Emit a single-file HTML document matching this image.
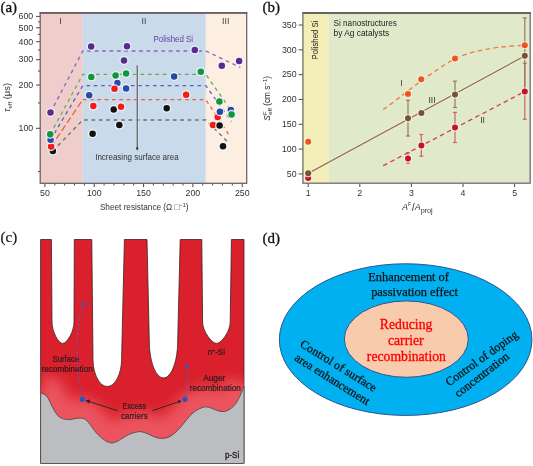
<!DOCTYPE html>
<html><head><meta charset="utf-8"><style>
html,body{margin:0;padding:0;background:#fff;}
body{width:533px;height:466px;overflow:hidden;font-family:"Liberation Sans",sans-serif;}
svg{display:block;will-change:transform;}
</style></head><body>
<svg width="533" height="466" viewBox="0 0 533 466">
<rect x="40.2" y="12.85" width="42.599999999999994" height="170.45000000000002" fill="#eecdcb"/>
<rect x="82.8" y="12.85" width="123.00000000000001" height="170.45000000000002" fill="#c9daeb"/>
<rect x="205.8" y="12.85" width="40.89999999999998" height="170.45000000000002" fill="#fdeee2"/>
<text x="60.45" y="23.8" font-size="8.9" fill="#444" text-anchor="middle" font-family="'Liberation Sans', sans-serif" >I</text>
<text x="144.0" y="23.8" font-size="8.9" fill="#444" text-anchor="middle" font-family="'Liberation Sans', sans-serif" >II</text>
<text x="225.75" y="23.8" font-size="8.9" fill="#444" text-anchor="middle" font-family="'Liberation Sans', sans-serif" >III</text>
<line x1="36.0" y1="128.30" x2="40.2" y2="128.30" stroke="#333" stroke-width="0.9"/>
<text x="33.2" y="131.10000000000002" font-size="8.8" fill="#333" text-anchor="end" font-family="'Liberation Sans', sans-serif" >100</text>
<line x1="36.0" y1="85.01" x2="40.2" y2="85.01" stroke="#333" stroke-width="0.9"/>
<text x="33.2" y="87.8118866235195" font-size="8.8" fill="#333" text-anchor="end" font-family="'Liberation Sans', sans-serif" >200</text>
<line x1="36.0" y1="59.69" x2="40.2" y2="59.69" stroke="#333" stroke-width="0.9"/>
<text x="33.2" y="62.48996357131254" font-size="8.8" fill="#333" text-anchor="end" font-family="'Liberation Sans', sans-serif" >300</text>
<line x1="36.0" y1="41.72" x2="40.2" y2="41.72" stroke="#333" stroke-width="0.9"/>
<text x="33.2" y="44.523773247039" font-size="8.8" fill="#333" text-anchor="end" font-family="'Liberation Sans', sans-serif" >400</text>
<line x1="36.0" y1="27.79" x2="40.2" y2="27.79" stroke="#333" stroke-width="0.9"/>
<text x="33.2" y="30.588113376480496" font-size="8.8" fill="#333" text-anchor="end" font-family="'Liberation Sans', sans-serif" >500</text>
<line x1="36.0" y1="16.40" x2="40.2" y2="16.40" stroke="#333" stroke-width="0.9"/>
<text x="33.2" y="19.20185019483205" font-size="8.8" fill="#333" text-anchor="end" font-family="'Liberation Sans', sans-serif" >600</text>
<line x1="38.0" y1="171.59" x2="40.2" y2="171.59" stroke="#333" stroke-width="0.9"/>
<line x1="38.0" y1="102.98" x2="40.2" y2="102.98" stroke="#333" stroke-width="0.9"/>
<line x1="38.0" y1="71.08" x2="40.2" y2="71.08" stroke="#333" stroke-width="0.9"/>
<line x1="38.0" y1="50.06" x2="40.2" y2="50.06" stroke="#333" stroke-width="0.9"/>
<line x1="38.0" y1="34.37" x2="40.2" y2="34.37" stroke="#333" stroke-width="0.9"/>
<line x1="38.0" y1="21.84" x2="40.2" y2="21.84" stroke="#333" stroke-width="0.9"/>
<line x1="44.90" y1="183.3" x2="44.90" y2="187.10000000000002" stroke="#333" stroke-width="0.9"/>
<text x="44.90" y="196.4" font-size="8.8" fill="#333" text-anchor="middle" font-family="'Liberation Sans', sans-serif" >50</text>
<line x1="54.77" y1="183.3" x2="54.77" y2="185.5" stroke="#333" stroke-width="0.9"/>
<line x1="64.63" y1="183.3" x2="64.63" y2="185.5" stroke="#333" stroke-width="0.9"/>
<line x1="74.50" y1="183.3" x2="74.50" y2="185.5" stroke="#333" stroke-width="0.9"/>
<line x1="84.36" y1="183.3" x2="84.36" y2="185.5" stroke="#333" stroke-width="0.9"/>
<line x1="94.23" y1="183.3" x2="94.23" y2="187.10000000000002" stroke="#333" stroke-width="0.9"/>
<text x="94.23" y="196.4" font-size="8.8" fill="#333" text-anchor="middle" font-family="'Liberation Sans', sans-serif" >100</text>
<line x1="104.10" y1="183.3" x2="104.10" y2="185.5" stroke="#333" stroke-width="0.9"/>
<line x1="113.96" y1="183.3" x2="113.96" y2="185.5" stroke="#333" stroke-width="0.9"/>
<line x1="123.83" y1="183.3" x2="123.83" y2="185.5" stroke="#333" stroke-width="0.9"/>
<line x1="133.69" y1="183.3" x2="133.69" y2="185.5" stroke="#333" stroke-width="0.9"/>
<line x1="143.56" y1="183.3" x2="143.56" y2="187.10000000000002" stroke="#333" stroke-width="0.9"/>
<text x="143.56" y="196.4" font-size="8.8" fill="#333" text-anchor="middle" font-family="'Liberation Sans', sans-serif" >150</text>
<line x1="153.43" y1="183.3" x2="153.43" y2="185.5" stroke="#333" stroke-width="0.9"/>
<line x1="163.29" y1="183.3" x2="163.29" y2="185.5" stroke="#333" stroke-width="0.9"/>
<line x1="173.16" y1="183.3" x2="173.16" y2="185.5" stroke="#333" stroke-width="0.9"/>
<line x1="183.02" y1="183.3" x2="183.02" y2="185.5" stroke="#333" stroke-width="0.9"/>
<line x1="192.89" y1="183.3" x2="192.89" y2="187.10000000000002" stroke="#333" stroke-width="0.9"/>
<text x="192.89" y="196.4" font-size="8.8" fill="#333" text-anchor="middle" font-family="'Liberation Sans', sans-serif" >200</text>
<line x1="202.76" y1="183.3" x2="202.76" y2="185.5" stroke="#333" stroke-width="0.9"/>
<line x1="212.62" y1="183.3" x2="212.62" y2="185.5" stroke="#333" stroke-width="0.9"/>
<line x1="222.49" y1="183.3" x2="222.49" y2="185.5" stroke="#333" stroke-width="0.9"/>
<line x1="232.35" y1="183.3" x2="232.35" y2="185.5" stroke="#333" stroke-width="0.9"/>
<line x1="242.22" y1="183.3" x2="242.22" y2="187.10000000000002" stroke="#333" stroke-width="0.9"/>
<text x="242.22" y="196.4" font-size="8.8" fill="#333" text-anchor="middle" font-family="'Liberation Sans', sans-serif" >250</text>
<path d="M50.50,112.50 L82.80,51.00 L205.80,51.00 L240.40,67.40" fill="none" stroke="#8666c0" stroke-width="1.3" stroke-dasharray="3.7 3.7"/>
<path d="M50.20,134.20 L82.80,74.40 L205.80,74.40 L230.00,109.00" fill="none" stroke="#5caf5c" stroke-width="1.3" stroke-dasharray="3.7 3.7"/>
<path d="M50.60,139.80 L82.80,85.60 L205.80,85.60 L231.40,121.30" fill="none" stroke="#5562bf" stroke-width="1.3" stroke-dasharray="3.7 3.7"/>
<path d="M51.10,146.60 L82.80,99.60" fill="none" stroke="#ee6040" stroke-width="1.3" stroke-dasharray="6.5 3"/>
<path d="M82.80,99.60 L205.80,99.60 L228.90,134.70" fill="none" stroke="#ee6040" stroke-width="1.3" stroke-dasharray="3.7 3.6"/>
<path d="M52.80,151.00 L82.80,120.00 L205.80,120.00 L229.40,143.60" fill="none" stroke="#6e6e6e" stroke-width="1.3" stroke-dasharray="3.7 3.7"/>
<line x1="137.2" y1="65.3" x2="137.2" y2="149" stroke="#eef6fa" stroke-width="2.6" stroke-opacity="0.6"/>
<line x1="137.2" y1="65.3" x2="137.2" y2="148" stroke="#4a4a4a" stroke-width="1.1"/>
<path d="M135.8,147.6 L138.6,147.6 L137.2,150.8 Z" fill="#222"/>
<text x="95.20" y="159.6" font-size="8.6" fill="#333" textLength="83.40" lengthAdjust="spacingAndGlyphs" font-family="'Liberation Sans', sans-serif" >Increasing surface area</text>
<text x="153.50" y="42.3" font-size="8.2" fill="#6a3aa0" textLength="39.60" lengthAdjust="spacingAndGlyphs" font-family="'Liberation Sans', sans-serif" >Polished Si</text>
<circle cx="52.8" cy="151.0" r="4.55" fill="#eef8fa" fill-opacity="0.85"/>
<circle cx="52.8" cy="151.0" r="3.25" fill="#111111"/>
<circle cx="51.1" cy="146.6" r="4.55" fill="#eef8fa" fill-opacity="0.85"/>
<circle cx="51.1" cy="146.6" r="3.25" fill="#f81818"/>
<circle cx="50.6" cy="139.8" r="4.55" fill="#eef8fa" fill-opacity="0.85"/>
<circle cx="50.6" cy="139.8" r="3.25" fill="#2b48a8"/>
<circle cx="50.2" cy="134.2" r="4.55" fill="#eef8fa" fill-opacity="0.85"/>
<circle cx="50.2" cy="134.2" r="3.25" fill="#13963a"/>
<circle cx="50.5" cy="112.5" r="4.55" fill="#eef8fa" fill-opacity="0.85"/>
<circle cx="50.5" cy="112.5" r="3.25" fill="#5a2a90"/>
<circle cx="92.6" cy="133.8" r="4.55" fill="#eef8fa" fill-opacity="0.85"/>
<circle cx="92.6" cy="133.8" r="3.25" fill="#111111"/>
<circle cx="113.7" cy="109.5" r="4.55" fill="#eef8fa" fill-opacity="0.85"/>
<circle cx="113.7" cy="109.5" r="3.25" fill="#111111"/>
<circle cx="119.3" cy="125.0" r="4.55" fill="#eef8fa" fill-opacity="0.85"/>
<circle cx="119.3" cy="125.0" r="3.25" fill="#111111"/>
<circle cx="166.7" cy="108.2" r="4.55" fill="#eef8fa" fill-opacity="0.85"/>
<circle cx="166.7" cy="108.2" r="3.25" fill="#111111"/>
<circle cx="89.2" cy="95.3" r="4.55" fill="#eef8fa" fill-opacity="0.85"/>
<circle cx="89.2" cy="95.3" r="3.25" fill="#2b48a8"/>
<circle cx="117.4" cy="83.0" r="4.55" fill="#eef8fa" fill-opacity="0.85"/>
<circle cx="117.4" cy="83.0" r="3.25" fill="#2b48a8"/>
<circle cx="126.1" cy="88.4" r="4.55" fill="#eef8fa" fill-opacity="0.85"/>
<circle cx="126.1" cy="88.4" r="3.25" fill="#2b48a8"/>
<circle cx="174.1" cy="76.4" r="4.55" fill="#eef8fa" fill-opacity="0.85"/>
<circle cx="174.1" cy="76.4" r="3.25" fill="#2b48a8"/>
<circle cx="93.3" cy="106.1" r="4.55" fill="#eef8fa" fill-opacity="0.85"/>
<circle cx="93.3" cy="106.1" r="3.25" fill="#f81818"/>
<circle cx="114.5" cy="88.8" r="4.55" fill="#eef8fa" fill-opacity="0.85"/>
<circle cx="114.5" cy="88.8" r="3.25" fill="#f81818"/>
<circle cx="121.0" cy="106.8" r="4.55" fill="#eef8fa" fill-opacity="0.85"/>
<circle cx="121.0" cy="106.8" r="3.25" fill="#f81818"/>
<circle cx="186.1" cy="94.7" r="4.55" fill="#eef8fa" fill-opacity="0.85"/>
<circle cx="186.1" cy="94.7" r="3.25" fill="#f81818"/>
<circle cx="91.3" cy="77.0" r="4.55" fill="#eef8fa" fill-opacity="0.85"/>
<circle cx="91.3" cy="77.0" r="3.25" fill="#13963a"/>
<circle cx="115.6" cy="75.5" r="4.55" fill="#eef8fa" fill-opacity="0.85"/>
<circle cx="115.6" cy="75.5" r="3.25" fill="#13963a"/>
<circle cx="126.1" cy="73.5" r="4.55" fill="#eef8fa" fill-opacity="0.85"/>
<circle cx="126.1" cy="73.5" r="3.25" fill="#13963a"/>
<circle cx="200.8" cy="71.8" r="4.55" fill="#eef8fa" fill-opacity="0.85"/>
<circle cx="200.8" cy="71.8" r="3.25" fill="#13963a"/>
<circle cx="91.2" cy="46.4" r="4.55" fill="#eef8fa" fill-opacity="0.85"/>
<circle cx="91.2" cy="46.4" r="3.25" fill="#5a2a90"/>
<circle cx="127.0" cy="46.3" r="4.55" fill="#eef8fa" fill-opacity="0.85"/>
<circle cx="127.0" cy="46.3" r="3.25" fill="#5a2a90"/>
<circle cx="124.0" cy="60.5" r="4.55" fill="#eef8fa" fill-opacity="0.85"/>
<circle cx="124.0" cy="60.5" r="3.25" fill="#5a2a90"/>
<circle cx="194.8" cy="50.1" r="4.55" fill="#eef8fa" fill-opacity="0.85"/>
<circle cx="194.8" cy="50.1" r="3.25" fill="#5a2a90"/>
<circle cx="217.7" cy="117.0" r="4.55" fill="#eef8fa" fill-opacity="0.85"/>
<circle cx="217.7" cy="117.0" r="3.25" fill="#f81818"/>
<circle cx="213.0" cy="125.0" r="4.55" fill="#eef8fa" fill-opacity="0.85"/>
<circle cx="213.0" cy="125.0" r="3.25" fill="#f81818"/>
<circle cx="219.6" cy="125.5" r="4.55" fill="#eef8fa" fill-opacity="0.85"/>
<circle cx="219.6" cy="125.5" r="3.25" fill="#111111"/>
<circle cx="223.0" cy="146.2" r="4.55" fill="#eef8fa" fill-opacity="0.85"/>
<circle cx="223.0" cy="146.2" r="3.25" fill="#111111"/>
<circle cx="219.9" cy="111.8" r="4.55" fill="#eef8fa" fill-opacity="0.85"/>
<circle cx="219.9" cy="111.8" r="3.25" fill="#2b48a8"/>
<circle cx="230.8" cy="110.1" r="4.55" fill="#eef8fa" fill-opacity="0.85"/>
<circle cx="230.8" cy="110.1" r="3.25" fill="#2b48a8"/>
<circle cx="219.4" cy="101.4" r="4.55" fill="#eef8fa" fill-opacity="0.85"/>
<circle cx="219.4" cy="101.4" r="3.25" fill="#13963a"/>
<circle cx="231.6" cy="114.4" r="4.55" fill="#eef8fa" fill-opacity="0.85"/>
<circle cx="231.6" cy="114.4" r="3.25" fill="#13963a"/>
<circle cx="221.8" cy="65.8" r="4.55" fill="#eef8fa" fill-opacity="0.85"/>
<circle cx="221.8" cy="65.8" r="3.25" fill="#5a2a90"/>
<circle cx="239.1" cy="61.0" r="4.55" fill="#eef8fa" fill-opacity="0.85"/>
<circle cx="239.1" cy="61.0" r="3.25" fill="#5a2a90"/>
<rect x="40.2" y="12.85" width="206.5" height="170.45000000000002" fill="none" stroke="#6a6060" stroke-width="1.25"/>
<line x1="39.6" y1="12.85" x2="247.29999999999998" y2="12.85" stroke="#6a5e60" stroke-width="1.8"/>
<text x="99.90" y="209.6" font-size="8.8" fill="#333" textLength="88.70" lengthAdjust="spacingAndGlyphs" font-family="'Liberation Sans', sans-serif" >Sheet resistance (Ω □<tspan font-size="6" dy="-3">−1</tspan><tspan dy="3">)</tspan></text>
<g transform="translate(9.7,97.5) rotate(-90)"><text x="0" y="0" font-size="9.4" fill="#333" text-anchor="middle" font-family="'Liberation Sans', sans-serif"><tspan font-style="italic">τ</tspan><tspan font-size="6" dy="2">eff</tspan><tspan dy="-2"> (μs)</tspan></text></g>
<text x="0.4" y="12.2" font-size="15" fill="#111" text-anchor="start" font-family="'Liberation Serif', serif" stroke="#111" stroke-width="0.3">(a)</text>
<rect x="302.9" y="13.0" width="25.5" height="170.2" fill="#f3edb8"/>
<rect x="328.4" y="13.0" width="201.80000000000007" height="170.2" fill="#e0e9c9"/>
<line x1="298.7" y1="173.91" x2="302.9" y2="173.91" stroke="#333" stroke-width="0.9"/>
<text x="296.6" y="176.715" font-size="8.8" fill="#333" text-anchor="end" font-family="'Liberation Sans', sans-serif" >50</text>
<line x1="298.7" y1="149.10" x2="302.9" y2="149.10" stroke="#333" stroke-width="0.9"/>
<text x="296.6" y="151.9" font-size="8.8" fill="#333" text-anchor="end" font-family="'Liberation Sans', sans-serif" >100</text>
<line x1="298.7" y1="124.28" x2="302.9" y2="124.28" stroke="#333" stroke-width="0.9"/>
<text x="296.6" y="127.085" font-size="8.8" fill="#333" text-anchor="end" font-family="'Liberation Sans', sans-serif" >150</text>
<line x1="298.7" y1="99.47" x2="302.9" y2="99.47" stroke="#333" stroke-width="0.9"/>
<text x="296.6" y="102.27" font-size="8.8" fill="#333" text-anchor="end" font-family="'Liberation Sans', sans-serif" >200</text>
<line x1="298.7" y1="74.65" x2="302.9" y2="74.65" stroke="#333" stroke-width="0.9"/>
<text x="296.6" y="77.45499999999998" font-size="8.8" fill="#333" text-anchor="end" font-family="'Liberation Sans', sans-serif" >250</text>
<line x1="298.7" y1="49.84" x2="302.9" y2="49.84" stroke="#333" stroke-width="0.9"/>
<text x="296.6" y="52.639999999999986" font-size="8.8" fill="#333" text-anchor="end" font-family="'Liberation Sans', sans-serif" >300</text>
<line x1="298.7" y1="25.02" x2="302.9" y2="25.02" stroke="#333" stroke-width="0.9"/>
<text x="296.6" y="27.824999999999992" font-size="8.8" fill="#333" text-anchor="end" font-family="'Liberation Sans', sans-serif" >350</text>
<line x1="308.20" y1="183.2" x2="308.20" y2="187.0" stroke="#333" stroke-width="0.9"/>
<text x="308.20" y="196.4" font-size="8.8" fill="#333" text-anchor="middle" font-family="'Liberation Sans', sans-serif" >1</text>
<line x1="359.80" y1="183.2" x2="359.80" y2="187.0" stroke="#333" stroke-width="0.9"/>
<text x="359.80" y="196.4" font-size="8.8" fill="#333" text-anchor="middle" font-family="'Liberation Sans', sans-serif" >2</text>
<line x1="411.40" y1="183.2" x2="411.40" y2="187.0" stroke="#333" stroke-width="0.9"/>
<text x="411.40" y="196.4" font-size="8.8" fill="#333" text-anchor="middle" font-family="'Liberation Sans', sans-serif" >3</text>
<line x1="463.00" y1="183.2" x2="463.00" y2="187.0" stroke="#333" stroke-width="0.9"/>
<text x="463.00" y="196.4" font-size="8.8" fill="#333" text-anchor="middle" font-family="'Liberation Sans', sans-serif" >4</text>
<line x1="514.60" y1="183.2" x2="514.60" y2="187.0" stroke="#333" stroke-width="0.9"/>
<text x="514.60" y="196.4" font-size="8.8" fill="#333" text-anchor="middle" font-family="'Liberation Sans', sans-serif" >5</text>
<g transform="translate(317.9,40.05) rotate(-90)"><text x="-19.45" y="0" font-size="8.3" fill="#222" textLength="38.9" lengthAdjust="spacingAndGlyphs" font-family="'Liberation Sans', sans-serif">Polished Si</text></g>
<text x="333.60" y="26.1" font-size="8.7" fill="#222" textLength="63.30" lengthAdjust="spacingAndGlyphs" font-family="'Liberation Sans', sans-serif" >Si nanostructures</text>
<text x="333.60" y="36.3" font-size="8.7" fill="#222" textLength="55.60" lengthAdjust="spacingAndGlyphs" font-family="'Liberation Sans', sans-serif" >by Ag catalysts</text>
<line x1="408.0" y1="152.8" x2="408.0" y2="163.1" stroke="#d06070" stroke-width="1.2"/>
<line x1="406.0" y1="152.8" x2="410.0" y2="152.8" stroke="#d06070" stroke-width="1.2"/>
<line x1="406.0" y1="163.1" x2="410.0" y2="163.1" stroke="#d06070" stroke-width="1.2"/>
<line x1="421.3" y1="134.5" x2="421.3" y2="156.2" stroke="#d06070" stroke-width="1.2"/>
<line x1="419.3" y1="134.5" x2="423.3" y2="134.5" stroke="#d06070" stroke-width="1.2"/>
<line x1="419.3" y1="156.2" x2="423.3" y2="156.2" stroke="#d06070" stroke-width="1.2"/>
<line x1="455.0" y1="112.4" x2="455.0" y2="142.5" stroke="#d06070" stroke-width="1.2"/>
<line x1="453.0" y1="112.4" x2="457.0" y2="112.4" stroke="#d06070" stroke-width="1.2"/>
<line x1="453.0" y1="142.5" x2="457.0" y2="142.5" stroke="#d06070" stroke-width="1.2"/>
<line x1="524.8" y1="63.3" x2="524.8" y2="119.3" stroke="#d06070" stroke-width="1.2"/>
<line x1="522.8" y1="63.3" x2="526.8" y2="63.3" stroke="#d06070" stroke-width="1.2"/>
<line x1="522.8" y1="119.3" x2="526.8" y2="119.3" stroke="#d06070" stroke-width="1.2"/>
<line x1="408.0" y1="100.3" x2="408.0" y2="136.0" stroke="#98795a" stroke-width="1.2"/>
<line x1="406.0" y1="100.3" x2="410.0" y2="100.3" stroke="#98795a" stroke-width="1.2"/>
<line x1="406.0" y1="136.0" x2="410.0" y2="136.0" stroke="#98795a" stroke-width="1.2"/>
<line x1="455.0" y1="81.2" x2="455.0" y2="107.5" stroke="#98795a" stroke-width="1.2"/>
<line x1="453.0" y1="81.2" x2="457.0" y2="81.2" stroke="#98795a" stroke-width="1.2"/>
<line x1="453.0" y1="107.5" x2="457.0" y2="107.5" stroke="#98795a" stroke-width="1.2"/>
<line x1="524.8" y1="17.9" x2="524.8" y2="94.0" stroke="#98795a" stroke-width="1.2"/>
<line x1="522.8" y1="17.9" x2="526.8" y2="17.9" stroke="#98795a" stroke-width="1.2"/>
<line x1="522.8" y1="94.0" x2="526.8" y2="94.0" stroke="#98795a" stroke-width="1.2"/>
<path d="M383.2,109.5 C400,98 425,76 455,58.5 C478,48.5 505,46 524.8,45.4" fill="none" stroke="#f07848" stroke-width="1.3" stroke-dasharray="4.6 3.4"/>
<line x1="308.2" y1="173.4" x2="524.8" y2="55.9" stroke="#f4f8ec" stroke-width="3" stroke-opacity="0.6"/>
<line x1="308.2" y1="173.4" x2="524.8" y2="55.9" stroke="#9a7450" stroke-width="1.3"/>
<line x1="383.2" y1="165.7" x2="524.8" y2="91.5" stroke="#d0404a" stroke-width="1.3" stroke-dasharray="4.6 3.4"/>
<circle cx="308.2" cy="141.8" r="4.1" fill="#f2f8ea" fill-opacity="0.8"/>
<circle cx="308.2" cy="141.8" r="3.0" fill="#f4501e"/>
<circle cx="308.2" cy="177.9" r="4.1" fill="#f2f8ea" fill-opacity="0.8"/>
<circle cx="308.2" cy="177.9" r="3.0" fill="#c8102e"/>
<circle cx="308.2" cy="173.3" r="4.1" fill="#f2f8ea" fill-opacity="0.8"/>
<circle cx="308.2" cy="173.3" r="3.0" fill="#7b5230"/>
<circle cx="408.0" cy="94.0" r="4.1" fill="#f2f8ea" fill-opacity="0.8"/>
<circle cx="408.0" cy="94.0" r="3.0" fill="#f4501e"/>
<circle cx="421.2" cy="79.3" r="4.1" fill="#f2f8ea" fill-opacity="0.8"/>
<circle cx="421.2" cy="79.3" r="3.0" fill="#f4501e"/>
<circle cx="455.0" cy="58.5" r="4.1" fill="#f2f8ea" fill-opacity="0.8"/>
<circle cx="455.0" cy="58.5" r="3.0" fill="#f4501e"/>
<circle cx="524.8" cy="45.3" r="4.1" fill="#f2f8ea" fill-opacity="0.8"/>
<circle cx="524.8" cy="45.3" r="3.0" fill="#f4501e"/>
<circle cx="408.0" cy="118.3" r="4.1" fill="#f2f8ea" fill-opacity="0.8"/>
<circle cx="408.0" cy="118.3" r="3.0" fill="#7b5230"/>
<circle cx="421.4" cy="113.1" r="4.1" fill="#f2f8ea" fill-opacity="0.8"/>
<circle cx="421.4" cy="113.1" r="3.0" fill="#7b5230"/>
<circle cx="455.0" cy="94.6" r="4.1" fill="#f2f8ea" fill-opacity="0.8"/>
<circle cx="455.0" cy="94.6" r="3.0" fill="#7b5230"/>
<circle cx="524.8" cy="55.8" r="4.1" fill="#f2f8ea" fill-opacity="0.8"/>
<circle cx="524.8" cy="55.8" r="3.0" fill="#7b5230"/>
<circle cx="408.0" cy="158.5" r="4.1" fill="#f2f8ea" fill-opacity="0.8"/>
<circle cx="408.0" cy="158.5" r="3.0" fill="#c8102e"/>
<circle cx="421.4" cy="145.6" r="4.1" fill="#f2f8ea" fill-opacity="0.8"/>
<circle cx="421.4" cy="145.6" r="3.0" fill="#c8102e"/>
<circle cx="455.0" cy="127.6" r="4.1" fill="#f2f8ea" fill-opacity="0.8"/>
<circle cx="455.0" cy="127.6" r="3.0" fill="#c8102e"/>
<circle cx="524.8" cy="91.5" r="4.1" fill="#f2f8ea" fill-opacity="0.8"/>
<circle cx="524.8" cy="91.5" r="3.0" fill="#c8102e"/>
<text x="401.5" y="85.5" font-size="8.5" fill="#333" text-anchor="middle" font-family="'Liberation Sans', sans-serif" >I</text>
<text x="432.0" y="102.5" font-size="8.5" fill="#333" text-anchor="middle" font-family="'Liberation Sans', sans-serif" >III</text>
<text x="482.5" y="123.0" font-size="8.5" fill="#333" text-anchor="middle" font-family="'Liberation Sans', sans-serif" >II</text>
<rect x="302.9" y="13.0" width="227.30000000000007" height="170.2" fill="none" stroke="#6a6a66" stroke-width="1.25"/>
<line x1="302.29999999999995" y1="13.0" x2="530.8000000000001" y2="13.0" stroke="#66665f" stroke-width="1.8"/>
<text x="402.0" y="209.9" font-size="9.0" fill="#333" text-anchor="start" font-family="'Liberation Sans', sans-serif" ><tspan font-style="italic">A</tspan><tspan font-size="5.2" dy="-3.6">F</tspan><tspan dy="4.2" dx="0.6" font-size="10.5">/</tspan><tspan font-style="italic" dy="-0.6">A</tspan><tspan font-size="7.2" dy="2.6">proj</tspan></text>
<g transform="translate(269.8,98.3) rotate(-90)"><text x="0" y="0" font-size="8.3" fill="#222" text-anchor="middle" font-family="'Liberation Sans', sans-serif"><tspan font-style="italic">S</tspan><tspan font-size="6" dy="-3.2">F</tspan><tspan font-size="6" dx="-3.3" dy="5.4">eff</tspan><tspan dy="-2.2"> (cm s</tspan><tspan font-size="6" dy="-3">−1</tspan><tspan dy="3">)</tspan></text></g>
<text x="262.4" y="12.2" font-size="15" fill="#111" text-anchor="start" font-family="'Liberation Serif', serif" stroke="#111" stroke-width="0.3">(b)</text>
<text x="0.5" y="241.9" font-size="15" fill="#111" text-anchor="start" font-family="'Liberation Serif', serif" stroke="#111" stroke-width="0.2">(c)</text>
<defs><filter id="blur6" x="-20%" y="-20%" width="140%" height="140%"><feGaussianBlur stdDeviation="6.5"/></filter><clipPath id="redclip"><path d="M40.6,239.5 L51.4,239.5 L52,322 C52,331 58,343.4 62.7,343.4 C67.4,343.4 74,331 74,322 L74.3,239.5 L91.8,239.5 L93.0,358.4 C93.0,373.9 99.4,386.4 107.3,386.4 C115.2,386.4 121.6,373.9 121.6,358.4 L124.4,239.5 L147.0,239.5 L149.3,341 C149.3,361.4 155.7,377.9 163.5,377.9 C171.3,377.9 177.7,361.4 177.7,341 L180.2,239.5 L201.8,239.5 L202.6,322 C202.6,331 211.5,343.4 216.6,343.4 C221.7,343.4 230.2,331 230.2,322 L231.4,239.5 L244,239.5 L244,463 L40.6,463 Z"/></clipPath></defs>
<path d="M40.6,239.5 L51.4,239.5 L52,322 C52,331 58,343.4 62.7,343.4 C67.4,343.4 74,331 74,322 L74.3,239.5 L91.8,239.5 L93.0,358.4 C93.0,373.9 99.4,386.4 107.3,386.4 C115.2,386.4 121.6,373.9 121.6,358.4 L124.4,239.5 L147.0,239.5 L149.3,341 C149.3,361.4 155.7,377.9 163.5,377.9 C171.3,377.9 177.7,361.4 177.7,341 L180.2,239.5 L201.8,239.5 L202.6,322 C202.6,331 211.5,343.4 216.6,343.4 C221.7,343.4 230.2,331 230.2,322 L231.4,239.5 L244,239.5 L244,463 L40.6,463 Z" fill="#d9202c" stroke="#3a2222" stroke-width="0.8"/>
<g clip-path="url(#redclip)"><path d="M40.6,392.8 C44,394 46,395 48,398 C51,403 53,410 57.7,415.5 C61,419 66,420 71,419.4 C75,418.8 79,417.5 83,418.3 C88,419.5 92,428 96,432.5 C101,438 106,442 111.4,443 C116,443 121,439 126,436 C131,433 135,432.3 140,431.5 C146,432 151,436 157,437.8 C161,438.8 166,438.8 170,436.5 C176,433 181,427 186,420.5 C191,414 197,408.5 205,406.8 C210,406.5 215,410.5 221,411.5 C227,412 231,409 234.9,404.8 C238,401 240.5,395 244,386.2" fill="none" stroke="#f0606a" stroke-width="36" stroke-opacity="0.8" filter="url(#blur6)" transform="translate(0,-2)"/></g>
<path d="M40.6,392.8 C44,394 46,395 48,398 C51,403 53,410 57.7,415.5 C61,419 66,420 71,419.4 C75,418.8 79,417.5 83,418.3 C88,419.5 92,428 96,432.5 C101,438 106,442 111.4,443 C116,443 121,439 126,436 C131,433 135,432.3 140,431.5 C146,432 151,436 157,437.8 C161,438.8 166,438.8 170,436.5 C176,433 181,427 186,420.5 C191,414 197,408.5 205,406.8 C210,406.5 215,410.5 221,411.5 C227,412 231,409 234.9,404.8 C238,401 240.5,395 244,386.2 L244,463.5 L40.6,463.5 Z" fill="#bcbdc0" stroke="#4e4e4e" stroke-width="0.9"/>
<text x="52.50" y="361.8" font-size="8.6" fill="#2a1c1c" textLength="26.70" lengthAdjust="spacingAndGlyphs" font-family="'Liberation Sans', sans-serif" stroke="#2a1c1c" stroke-width="0.2">Surface</text>
<text x="41.60" y="372.0" font-size="8.6" fill="#2a1c1c" textLength="51.10" lengthAdjust="spacingAndGlyphs" font-family="'Liberation Sans', sans-serif" stroke="#2a1c1c" stroke-width="0.2">recombination</text>
<text x="122.50" y="408.9" font-size="8.6" fill="#2a1c1c" textLength="23.70" lengthAdjust="spacingAndGlyphs" font-family="'Liberation Sans', sans-serif" stroke="#2a1c1c" stroke-width="0.2">Excess</text>
<text x="121.00" y="419.0" font-size="8.6" fill="#2a1c1c" textLength="26.70" lengthAdjust="spacingAndGlyphs" font-family="'Liberation Sans', sans-serif" stroke="#2a1c1c" stroke-width="0.2">carriers</text>
<text x="203.20" y="381.0" font-size="8.6" fill="#2a1c1c" textLength="22.20" lengthAdjust="spacingAndGlyphs" font-family="'Liberation Sans', sans-serif" stroke="#2a1c1c" stroke-width="0.2">Auger</text>
<text x="189.70" y="390.6" font-size="8.6" fill="#2a1c1c" textLength="51.10" lengthAdjust="spacingAndGlyphs" font-family="'Liberation Sans', sans-serif" stroke="#2a1c1c" stroke-width="0.2">recombination</text>
<text x="207.70" y="354.9" font-size="8.6" fill="#2a1c1c" textLength="17.30" lengthAdjust="spacingAndGlyphs" font-family="'Liberation Sans', sans-serif" stroke="#2a1c1c" stroke-width="0.2">n<tspan font-size="5.5" dy="-3">+</tspan><tspan dy="3">-Si</tspan></text>
<text x="224.90" y="458.4" font-size="8.6" fill="#222" textLength="14.40" lengthAdjust="spacingAndGlyphs" font-family="'Liberation Sans', sans-serif" stroke="#222" stroke-width="0.3">p-Si</text>
<path d="M82.3,397 C79,385 76.8,365 77,347 C77.2,330 79,315 83.5,306" fill="none" stroke="#4566cc" stroke-width="1.0" stroke-dasharray="2.2 2.6"/>
<path d="M82.2,301.5 L86.8,303.8 L82.5,307 Z" fill="#3a5cc0"/>
<path d="M185.3,397 C188,388 188.5,377 187,368" fill="none" stroke="#4566cc" stroke-width="1.0" stroke-dasharray="2.2 2.6"/>
<path d="M186.5,363.3 L188.9,368.5 L184.7,368.5 Z" fill="#3a5cc0"/>
<line x1="117.6" y1="410.7" x2="88" y2="401.2" stroke="#222" stroke-width="0.9"/>
<path d="M85.4,400.5 L90.2,399.6 L89,403.4 Z" fill="#222"/>
<line x1="152.4" y1="410.6" x2="178.5" y2="401.9" stroke="#222" stroke-width="0.9"/>
<path d="M181.3,401 L177.6,399.8 L178.8,403.6 Z" fill="#222"/>
<circle cx="82.3" cy="399.3" r="2.6" fill="#2a55c0"/>
<circle cx="184.9" cy="399.3" r="2.6" fill="#2a55c0"/>
<text x="262.5" y="243.1" font-size="15" fill="#111" text-anchor="start" font-family="'Liberation Serif', serif" stroke="#111" stroke-width="0.3">(d)</text>
<ellipse cx="405.65" cy="339.6" rx="126.3" ry="75.85" fill="#00b0f0" stroke="#2f528f" stroke-width="1.0"/>
<ellipse cx="406.3" cy="339.1" rx="62.0" ry="38.2" fill="#f8cbad" stroke="#2f528f" stroke-width="1.0"/>
<text x="408.6" y="280.9" font-size="12.35" fill="#111" text-anchor="middle" font-family="'Liberation Serif', serif" stroke="#111" stroke-width="0.25">Enhancement of</text>
<text x="414.6" y="295.5" font-size="12.4" fill="#111" text-anchor="middle" font-family="'Liberation Serif', serif" stroke="#111" stroke-width="0.25">passivation effect</text>
<text x="406.1" y="328.6" font-size="13.7" fill="#ff0000" text-anchor="middle" font-family="'Liberation Serif', serif" stroke="#ff0000" stroke-width="0.3">Reducing</text>
<text x="405.8" y="344.8" font-size="13.7" fill="#ff0000" text-anchor="middle" font-family="'Liberation Serif', serif" stroke="#ff0000" stroke-width="0.3">carrier</text>
<text x="406.4" y="360.8" font-size="13.7" fill="#ff0000" text-anchor="middle" font-family="'Liberation Serif', serif" stroke="#ff0000" stroke-width="0.3">recombination</text>
<g transform="translate(299.3,346.1) rotate(31.7)"><text x="0" y="0" font-size="12" fill="#111" font-family="'Liberation Serif', serif" stroke="#111" stroke-width="0.25">Control of surface</text></g>
<g transform="translate(293.7,359.8) rotate(32)"><text x="0" y="0" font-size="12" fill="#111" font-family="'Liberation Serif', serif" stroke="#111" stroke-width="0.25">area enhancement</text></g>
<g transform="translate(449,386.5) rotate(-35.8)"><text x="0" y="0" font-size="12" fill="#111" font-family="'Liberation Serif', serif" stroke="#111" stroke-width="0.25">Control of doping</text></g>
<g transform="translate(458.3,397.7) rotate(-37.7)"><text x="0" y="0" font-size="12" fill="#111" font-family="'Liberation Serif', serif" stroke="#111" stroke-width="0.25">concentration</text></g>
</svg>
</body></html>
